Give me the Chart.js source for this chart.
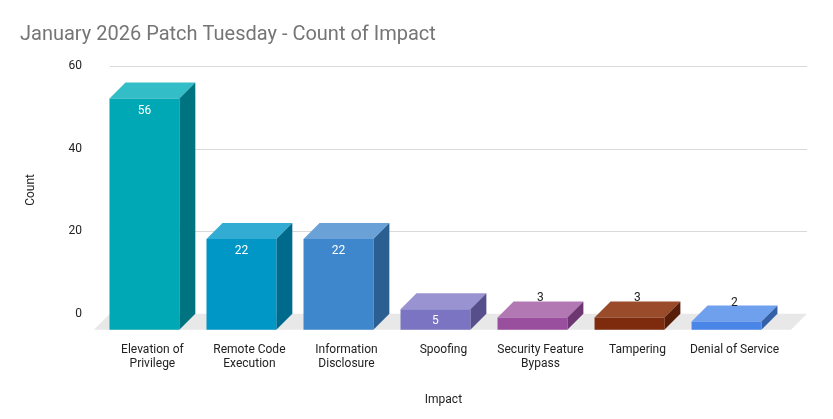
<!DOCTYPE html>
<html>
<head>
<meta charset="utf-8">
<script src="https://cdn.jsdelivr.net/npm/chart.js@4"></script>
<style>
  body { margin: 0; background: #fff; }
  #wrap { width: 833px; height: 419px; }
</style>
</head>
<body>
<div id="wrap"><canvas id="c"></canvas></div>
<script>
const categories = [["Elevation of", "Privilege"], ["Remote Code", "Execution"], ["Information", "Disclosure"], "Spoofing", ["Security Feature", "Bypass"], "Tampering", "Denial of Service"];
const counts = [56, 22, 22, 5, 3, 3, 2];
const frontColors = ["#00A8B5", "#0097C6", "#3F87CC", "#7A74C2", "#9A4E9E", "#7E2A0C", "#4A86E8"];
const topColors = ["#33BDC6", "#33ACD3", "#6AA2D8", "#9A93D1", "#B178B3", "#9A4C2A", "#6FA0EE"];
const sideColors = ["#007380", "#006A8C", "#2B5E91", "#574F8C", "#6D3670", "#581D08", "#3360A6"];
const depth = 16;

function shade(ctx, pts, color) {
  ctx.beginPath();
  ctx.moveTo(pts[0][0], pts[0][1]);
  for (let i = 1; i < pts.length; i++) ctx.lineTo(pts[i][0], pts[i][1]);
  ctx.closePath();
  ctx.fillStyle = color;
  ctx.fill();
}

// draws floor, gridlines and the 3D boxes from the bar elements
const box3d = {
  id: "box3d",
  beforeDatasetsDraw(chart) {
    const ctx = chart.ctx, a = chart.chartArea, y = chart.scales.y;
    ctx.save();
    ctx.strokeStyle = "#d9d9d9";
    ctx.lineWidth = 1;
    y.ticks.forEach(t => {
      if (t.value === 0) return;
      const py = Math.round(y.getPixelForValue(t.value)) + 0.5;
      ctx.beginPath(); ctx.moveTo(a.left + 6, py); ctx.lineTo(a.right + 24, py); ctx.stroke();
    });
    const b = y.getPixelForValue(0);
    shade(ctx, [[a.left + 6, b], [a.right + 24, b], [a.right + 8, b + depth], [a.left - 10, b + depth]], "#e8e8e8");
    ctx.restore();
  },
  afterDatasetsDraw(chart) {
    const ctx = chart.ctx, y = chart.scales.y;
    const b = y.getPixelForValue(0);
    ctx.save();
    chart.getDatasetMeta(0).data.forEach((el, i) => {
      const w = el.width, l = el.x - w / 2 + depth / 2, r = el.x + w / 2 + depth / 2;
      const top = el.y;
      // back face coords at (l..r, top..b); front shifted left/down
      const fl = l - depth, fr = r - depth, ft = top + depth, fb = b + depth;
      shade(ctx, [[fl, ft], [l, top], [r, top], [fr, ft]], topColors[i]);
      shade(ctx, [[fr, ft], [r, top], [r, b], [fr, fb]], sideColors[i]);
      shade(ctx, [[fl, ft], [fr, ft], [fr, fb], [fl, fb]], frontColors[i]);
      ctx.font = "12px Roboto, Arial, sans-serif";
      ctx.textAlign = "center";
      ctx.textBaseline = "middle";
      const cx = (fl + fr) / 2;
      if (counts[i] >= 5) {
        ctx.fillStyle = "#ffffff";
        ctx.fillText(String(counts[i]), cx, ft + 12);
      } else {
        ctx.fillStyle = "#222222";
        ctx.fillText(String(counts[i]), cx + 8, top - 3);
      }
    });
    ctx.restore();
  }
};

new Chart(document.getElementById("c"), {
  type: "bar",
  data: {
    labels: categories,
    datasets: [{ label: "Count", data: counts, backgroundColor: "rgba(0,0,0,0)" }]
  },
  options: {
    responsive: true,
    maintainAspectRatio: false,
    animation: false,
    layout: { padding: { left: 20, right: 50, top: 0, bottom: 8 } },
    plugins: {
      legend: { display: false },
      tooltip: { enabled: false },
      title: {
        display: true,
        text: "January 2026 Patch Tuesday - Count of Impact",
        align: "start",
        color: "#757575",
        font: { family: "Roboto, Arial, sans-serif", size: 20, weight: "normal" },
        padding: { top: 23, bottom: 19 }
      }
    },
    scales: {
      x: {
        grid: { display: false },
        border: { display: false },
        categoryPercentage: 1,
        barPercentage: 0.65,
        ticks: { color: "#222", font: { family: "Roboto, Arial, sans-serif", size: 12 }, padding: 21, maxRotation: 0, autoSkip: false },
        title: { display: true, text: "Impact", color: "#222", font: { family: "Roboto, Arial, sans-serif", size: 12 }, padding: { top: 0 } }
      },
      y: {
        min: 0, max: 60,
        grid: { display: false },
        border: { display: false },
        ticks: { stepSize: 20, color: "#222", font: { family: "Roboto, Arial, sans-serif", size: 12 }, padding: 14 },
        title: { display: true, text: "Count", color: "#222", font: { family: "Roboto, Arial, sans-serif", size: 12 }, padding: { bottom: 16 } }
      }
    }
  },
  plugins: [box3d]
});
</script>
</body>
</html>
